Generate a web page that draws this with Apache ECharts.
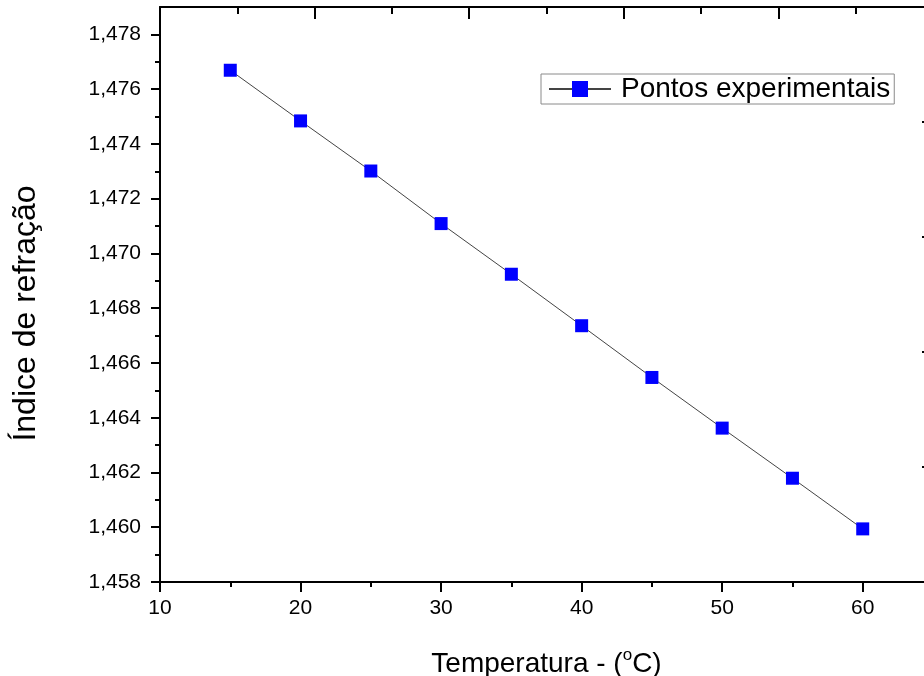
<!DOCTYPE html>
<html>
<head>
<meta charset="utf-8">
<script src="https://cdn.jsdelivr.net/npm/echarts@6/dist/echarts.min.js"></script>
<style>html,body{margin:0;padding:0;background:#fff;}#c{width:924px;height:676px;}</style>
</head>
<body>
<div id="c"></div>
<script>
const temperatures = [15, 20, 25, 30, 35, 40, 45, 50, 55, 60];
const refractiveIndex = [1.47669, 1.47484, 1.47301, 1.47109, 1.46924, 1.46736, 1.46547, 1.46362, 1.46179, 1.45994];
const xTickLabels = [10, 20, 30, 40, 50, 60];
const xMinorTicks = [15, 25, 35, 45, 55, 65];
const yTickLabels = [1.458, 1.460, 1.462, 1.464, 1.466, 1.468, 1.470, 1.472, 1.474, 1.476, 1.478];
const yMinorTicks = [1.459, 1.461, 1.463, 1.465, 1.467, 1.469, 1.471, 1.473, 1.475, 1.477];
const topMajorTicks = [0, 1, 2, 3, 4, 5];
const topMinorTicks = [0.5, 1.5, 2.5, 3.5, 4.5];
const rightTicks = [0, 1, 2, 3, 4, 5];
const seriesName = 'Pontos experimentais';

const FONT = 'Liberation Sans, Arial, sans-serif';
const chart = echarts.init(document.getElementById('c'), null, {renderer: 'canvas'});
const blackLine = {show: true, onZero: false, lineStyle: {color: '#000', width: 2}};
const hidden = {show: false};
const tickStyle = {color: '#000', width: 2};
const blankLabel = {show: true, inside: true, formatter: () => ''};

chart.setOption({
  animation: false,
  backgroundColor: '#fff',
  grid: {left: 160, top: 7, width: 773, height: 575, containLabel: false, outerBoundsMode: 'none'},
  legend: {
    data: [seriesName],
    left: 541, top: 74,
    padding: [1, 4, 1, 7],
    borderColor: '#8a8a8a', borderWidth: 1,
    itemWidth: 62, itemHeight: 20,
    textStyle: {fontFamily: FONT, fontSize: 28, color: '#000', padding: [0, 0, 0, 5]}
  },
  xAxis: [
    {
      type: 'value', position: 'bottom', min: 10, max: 65,
      axisLine: blackLine,
      axisTick: {show: true, inside: false, length: 10, customValues: xTickLabels, lineStyle: tickStyle},
      axisLabel: {show: true, customValues: xTickLabels, margin: 16, fontFamily: FONT, fontSize: 21, color: '#000'},
      splitLine: hidden,
      name: '{n|Temperatura - (}{s|o}{n|C)}',
      nameLocation: 'middle', nameGap: 65,
      nameTextStyle: {fontFamily: FONT, fontSize: 28, color: '#000',
        rich: {n: {fontFamily: FONT, fontSize: 28, color: '#000'}, s: {fontFamily: FONT, fontSize: 17, color: '#000', padding: [0, 0, 18, 0]}}}
    },
    {
      type: 'value', position: 'bottom', min: 10, max: 65,
      axisLine: {show: false, onZero: false},
      axisTick: {show: true, inside: false, length: 5, customValues: xMinorTicks, lineStyle: tickStyle},
      axisLabel: hidden, splitLine: hidden
    },
    {
      type: 'value', position: 'top', min: 0, max: 5,
      axisLine: blackLine,
      axisTick: {show: true, inside: true, length: 12, customValues: topMajorTicks, lineStyle: {color: '#000', width: 2}},
      axisLabel: Object.assign({customValues: topMajorTicks}, blankLabel), splitLine: hidden
    },
    {
      type: 'value', position: 'top', min: 0, max: 5,
      axisLine: {show: false, onZero: false},
      axisTick: {show: true, inside: true, length: 7, customValues: topMinorTicks, lineStyle: {color: '#000', width: 2}},
      axisLabel: Object.assign({customValues: topMinorTicks}, blankLabel), splitLine: hidden
    }
  ],
  yAxis: [
    {
      type: 'value', position: 'left', min: 1.458, max: 1.479,
      axisLine: blackLine,
      axisTick: {show: true, inside: false, length: 9, customValues: yTickLabels, lineStyle: tickStyle},
      axisLabel: {show: true, customValues: yTickLabels, margin: 19, fontFamily: FONT, fontSize: 21, color: '#000',
        formatter: v => v.toFixed(3).replace('.', ',')},
      splitLine: hidden,
      name: 'Índice de refração', nameLocation: 'middle', nameGap: 118,
      nameTextStyle: {fontFamily: FONT, fontSize: 32, color: '#000', padding: [0, 38, 0, 0]}
    },
    {
      type: 'value', position: 'left', min: 1.458, max: 1.479,
      axisLine: {show: false, onZero: false},
      axisTick: {show: true, inside: false, length: 5, customValues: yMinorTicks, lineStyle: tickStyle},
      axisLabel: hidden, splitLine: hidden
    },
    {
      type: 'value', position: 'right', min: 0, max: 5,
      axisLine: blackLine,
      axisTick: {show: true, inside: true, length: 11, customValues: rightTicks, lineStyle: tickStyle},
      axisLabel: hidden, splitLine: hidden
    }
  ],
  series: [{
    name: seriesName,
    type: 'line',
    xAxisIndex: 0, yAxisIndex: 0,
    data: temperatures.map((t, i) => [t, refractiveIndex[i]]),
    symbol: 'rect', symbolSize: 13,
    itemStyle: {color: '#0000ff'},
    lineStyle: {color: '#444', width: 1},
    z: 5
  }]
});
</script>
</body>
</html>
